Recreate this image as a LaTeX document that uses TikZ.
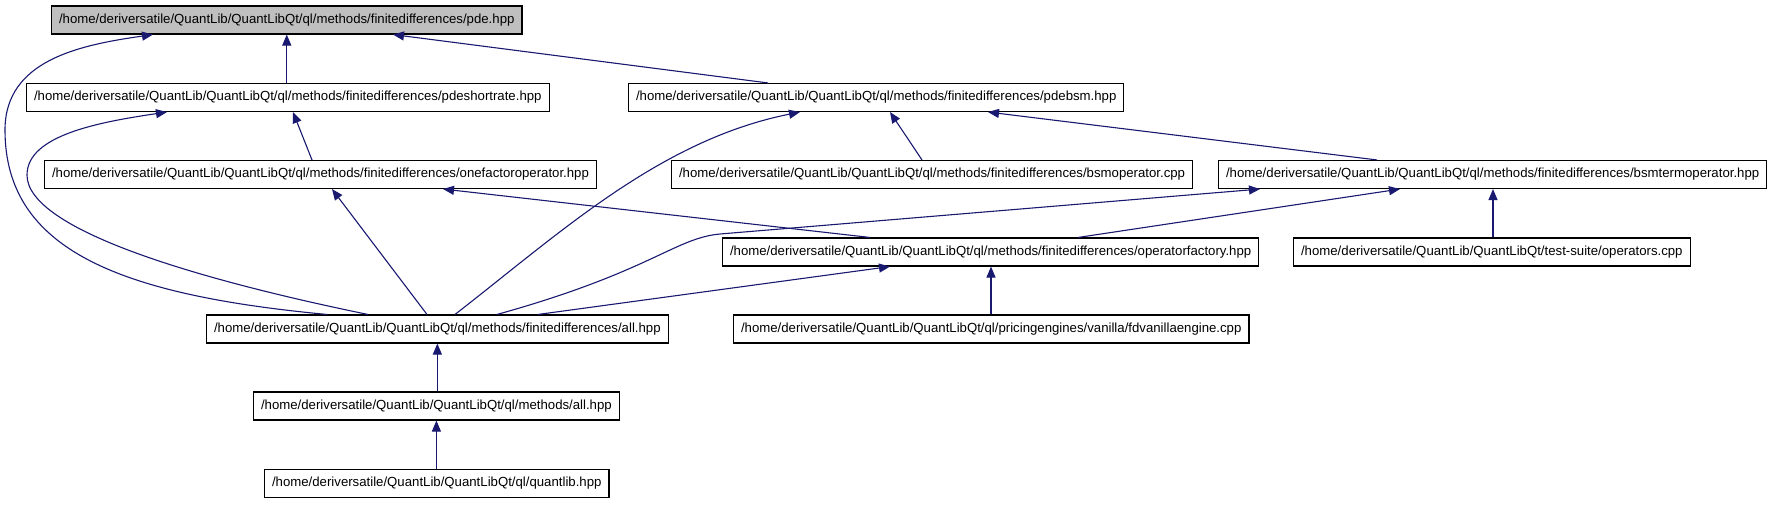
\documentclass[tikz,border=0pt]{standalone}
\usepackage{fontspec}
\setmainfont{Liberation Sans}
\usetikzlibrary{arrows.meta,positioning}
\definecolor{edgeblue}{RGB}{25,25,112}
\definecolor{rootgray}{RGB}{191,191,191}
\newcommand{\qlpath}{/home/deriversatile/QuantLib/QuantLibQt}
\newcommand{\fdpath}{\qlpath/ql/methods/finitedifferences}

\tikzset{
  file/.style={draw=black, line width=1.1pt, anchor=west, minimum height=28pt,
    inner xsep=7.5pt, inner ysep=0pt, font=\fontsize{13.2}{15}\selectfont},
  root/.style={file, fill=rootgray},
  dep/.style={draw=edgeblue, line width=1.1pt, -{Triangle[length=11pt,width=9pt]}}
}

\begin{document}
\begin{tikzpicture}[x=1pt,y=-1pt]
\useasboundingbox (0,0) rectangle (1773,504);
% files
\node[root] (pde) at (51,20) {\fdpath/pde.hpp};
\node[file] (shortrate) at (26,97.5) {\fdpath/pdeshortrate.hpp};
\node[file] (bsm) at (628,97.5) {\fdpath/pdebsm.hpp};
\node[file] (onefactor) at (44,174.5) {\fdpath/onefactoroperator.hpp};
\node[file] (bsmop) at (671,174.5) {\fdpath/bsmoperator.cpp};
\node[file] (bsmterm) at (1218,174.5) {\fdpath/bsmtermoperator.hpp};
\node[file] (opfactory) at (722,252) {\fdpath/operatorfactory.hpp};
\node[file] (operators) at (1293,252) {\qlpath/test-suite/operators.cpp};
\node[file] (fdall) at (206,329) {\fdpath/all.hpp};
\node[file] (fdvanilla) at (733,329) {\qlpath/ql/pricingengines/vanilla/fdvanillaengine.cpp};
\node[file] (mall) at (253,406) {\qlpath/ql/methods/all.hpp};
\node[file] (qlib) at (264,483.5) {\qlpath/ql/quantlib.hpp};
% included by
\draw[dep] (pde.south |- shortrate.north) -- (pde.south);
\draw[dep] ([xshift=140]bsm.north west) -- ([xshift=342]pde.south west);
\draw[dep] ([xshift=121]fdall.north west) .. controls (120,295) and (5,250) .. (5,130)
  .. controls (5,60) and (80,45) .. ([xshift=102]pde.south west);
\draw[dep] ([xshift=162]fdall.north west) .. controls (200,280) and (27,230) .. (27,175)
  .. controls (27,135) and (100,122) .. ([xshift=141]shortrate.south west);
\draw[dep] ([xshift=268]onefactor.north west) -- ([xshift=267]shortrate.south west);
\draw[dep] ([xshift=249]fdall.north west) .. controls (560,233) and (660,140)
  .. ([xshift=172]bsm.south west);
\draw[dep] ([xshift=251]bsmop.north west) -- ([xshift=262]bsm.south west);
\draw[dep] ([xshift=159]bsmterm.north west) -- ([xshift=360]bsm.south west);
\draw[dep] ([xshift=148]opfactory.north west) -- ([xshift=399]onefactor.south west);
\draw[dep] ([xshift=221]fdall.north west) -- ([xshift=288]onefactor.south west);
\draw[dep] ([xshift=356]opfactory.north west) -- ([xshift=182]bsmterm.south west);
\draw[dep] ([xshift=291]fdall.north west) .. controls (650,272) and (675,238) .. (720,234)
  -- ([xshift=42]bsmterm.south west);
\draw[dep] ([xshift=258]fdvanilla.north west) -- ([xshift=269]opfactory.south west);
\draw[dep] ([xshift=332]fdall.north west) -- ([xshift=168]opfactory.south west);
\draw[dep] ([xshift=200]operators.north west) -- ([xshift=275]bsmterm.south west);
\draw[dep] (mall.north -| fdall.south) -- (fdall.south);
\draw[dep] (qlib.north -| mall.south) -- (mall.south);
\end{tikzpicture}
\end{document}
